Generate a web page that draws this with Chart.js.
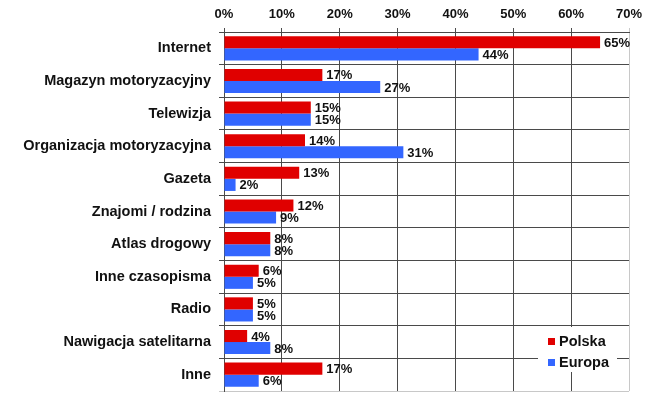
<!DOCTYPE html>
<html>
<head>
<meta charset="utf-8">
<script src="https://cdn.jsdelivr.net/npm/chart.js@4/dist/chart.umd.min.js"></script>
<style>
  html, body { margin: 0; padding: 0; background: #ffffff; }
  #wrap { width: 650px; height: 398px; position: relative; }
</style>
</head>
<body>
<div id="wrap"><canvas id="c" width="650" height="398"></canvas></div>
<script>
const categories = ["Internet", "Magazyn motoryzacyjny", "Telewizja", "Organizacja motoryzacyjna", "Gazeta", "Znajomi / rodzina", "Atlas drogowy", "Inne czasopisma", "Radio", "Nawigacja satelitarna", "Inne"];
const polska = [65, 17, 15, 14, 13, 12, 8, 6, 5, 4, 17];
const europa = [44, 27, 15, 31, 2, 9, 8, 5, 5, 8, 6];
const seriesNames = ["Polska", "Europa"];
const tickMax = 70;
const tickStep = 10;

const FONT = "'Liberation Sans', Arial, sans-serif";
const RED = "#e00000";
const BLUE = "#3366ff";
const DARK = "#4a4a4a";
const LIGHT = "#c8c8c8";

const valueLabels = {
  id: "valueLabels",
  afterDatasetsDraw(chart) {
    const ctx = chart.ctx;
    ctx.save();
    ctx.font = "bold 13px " + FONT;
    ctx.fillStyle = "#111";
    ctx.textAlign = "left";
    ctx.textBaseline = "middle";
    chart.data.datasets.forEach((ds, di) => {
      const meta = chart.getDatasetMeta(di);
      meta.data.forEach((bar, i) => {
        ctx.fillText(ds.data[i] + "%", bar.x + 4, bar.y + 1);
      });
    });
    ctx.restore();
  }
};

const innerLegend = {
  id: "innerLegend",
  afterDraw(chart) {
    const ctx = chart.ctx;
    const a = chart.chartArea;
    const boxL = a.right - 91, boxR = a.right - 12;
    const boxT = a.bottom - 64, boxB = a.bottom - 19;
    ctx.save();
    ctx.fillStyle = "#ffffff";
    ctx.fillRect(boxL, boxT, boxR - boxL, boxB - boxT);
    ctx.font = "bold 14.5px " + FONT;
    ctx.textBaseline = "middle";
    ctx.textAlign = "left";
    chart.data.datasets.forEach((ds, i) => {
      const cy = boxT + 15 + i * 21;
      ctx.fillStyle = ds.backgroundColor;
      ctx.fillRect(boxL + 10, cy - 4, 7, 7);
      ctx.fillStyle = "#111";
      ctx.fillText(ds.label, boxL + 21, cy);
    });
    ctx.restore();
  }
};

new Chart(document.getElementById("c"), {
  type: "bar",
  data: {
    labels: categories,
    datasets: [
      { label: seriesNames[0], data: polska, backgroundColor: RED, borderWidth: 0 },
      { label: seriesNames[1], data: europa, backgroundColor: BLUE, borderWidth: 0 }
    ]
  },
  options: {
    indexAxis: "y",
    responsive: false,
    animation: false,
    devicePixelRatio: 1,
    layout: { padding: { left: 0, top: 0, right: 21, bottom: 7 } },
    categoryPercentage: 0.74,
    barPercentage: 1.0,
    plugins: {
      legend: { display: false },
      tooltip: { enabled: false }
    },
    scales: {
      x: {
        position: "top",
        min: 0,
        max: tickMax,
        ticks: {
          stepSize: tickStep,
          callback: v => v + "%",
          font: { family: FONT, size: 13, weight: "bold" },
          color: "#111",
          padding: 6
        },
        grid: {
          color: c => (c.tick && c.tick.value === tickMax) ? LIGHT : DARK,
          lineWidth: 1,
          tickLength: 4,
          drawTicks: true
        },
        border: { color: DARK, width: 1 },
        afterFit: s => { s.height = 32; }
      },
      y: {
        ticks: {
          font: { family: FONT, size: 14.5, weight: "bold" },
          color: "#111",
          padding: 8
        },
        grid: {
          offset: true,
          color: c => (c.type === "tick") ? DARK : LIGHT,
          lineWidth: 1,
          tickLength: 5
        },
        border: { color: DARK, width: 1 },
        afterFit: s => { s.width = 224; s.paddingTop = 0; s.paddingBottom = 0; }
      }
    }
  },
  plugins: [valueLabels, innerLegend]
});
</script>
</body>
</html>
